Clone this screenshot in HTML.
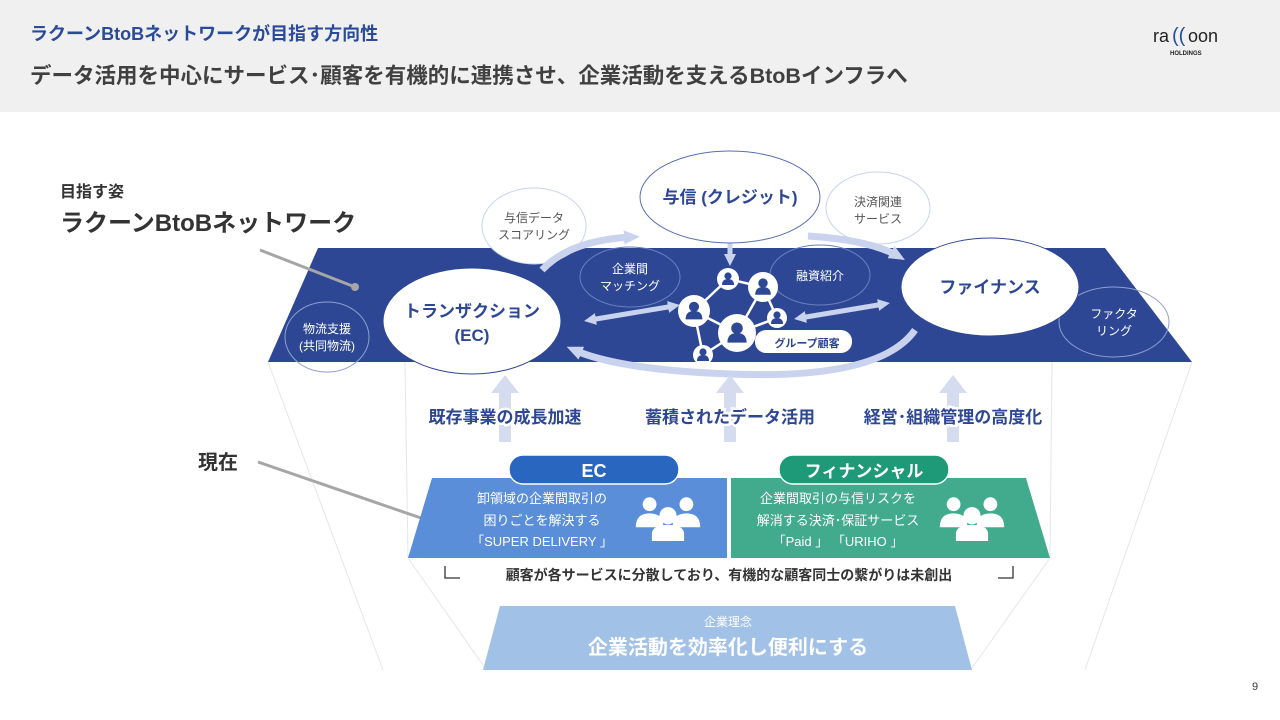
<!DOCTYPE html>
<html><head><meta charset="utf-8"><style>
html,body{margin:0;padding:0;width:1280px;height:720px;overflow:hidden;background:#fff;}
svg{display:block;font-family:"Liberation Sans","Noto Sans CJK JP",sans-serif;}
</style></head><body>
<svg width="1280" height="720" viewBox="0 0 1280 720" xmlns="http://www.w3.org/2000/svg">
<defs>
<marker id="ah" markerWidth="16" markerHeight="16" refX="8" refY="8" orient="auto" markerUnits="userSpaceOnUse"><path d="M0,1 L16,8 L0,15 z" fill="#c9d3ee"/></marker>
<marker id="ah2" markerWidth="12" markerHeight="12" refX="6" refY="6" orient="auto-start-reverse" markerUnits="userSpaceOnUse"><path d="M0,0 L12,6 L0,12 z" fill="#c9d3ee"/></marker>
<g id="ppl" fill="#fff">
<circle cx="-16" cy="-12" r="6"/><circle cx="16" cy="-12" r="6"/><path d="M-28,8 q0,-12 12,-12 q12,0 12,12 z"/><path d="M4,8 q0,-12 12,-12 q12,0 12,12 z"/>
<circle cx="0" cy="-2" r="7.5"/><path d="M-14,20 v-6 q0,-8 14,-8 q14,0 14,8 v6 z"/>
</g>
<g id="usr"><circle cx="0" cy="-3" r="3.6" fill="#2e4795"/><path d="M-6,6 q0,-6 6,-6 q6,0 6,6 z" fill="#2e4795"/></g>
</defs>
<rect x="0" y="0" width="1280" height="112" fill="#f0f0f0"/>
<text x="30" y="40" font-size="18" font-weight="bold" fill="#2a4a9a">ラクーンBtoBネットワークが目指す方向性</text>
<text x="30" y="83" font-size="21.5" font-weight="bold" fill="#404040">データ活用を中心にサービス･顧客を有機的に連携させ、企業活動を支えるBtoBインフラへ</text>
<text x="1153" y="42" font-size="18" fill="#222">ra</text><text x="1172" y="42" font-size="20" fill="#1f4fa0">((</text><text x="1188" y="42" font-size="18" fill="#222">oon</text>
<text x="1170" y="55" font-size="6" font-weight="bold" fill="#222">HOLDINGS</text>

<g stroke="#e3e7ee" stroke-width="1" fill="none">
<path d="M268,362 L383,670"/><path d="M1192,362 L1085,670"/>
<path d="M405,362 L408,558 L485,668"/><path d="M1052,362 L1050,558 L972,668"/>
</g>

<polygon points="318,248 1105,248 1192,362 268,362" fill="#2e4795"/>

<g fill="none" stroke="#c9d3ee" stroke-width="1">
<ellipse cx="534" cy="226" rx="52" ry="38" fill="#fff"/>
<ellipse cx="878" cy="208" rx="52" ry="36" fill="#fff"/>
<ellipse cx="630" cy="277" rx="50" ry="30" stroke="#6b7fbf"/>
<ellipse cx="820" cy="275" rx="50" ry="30" stroke="#6b7fbf"/>
<ellipse cx="327" cy="337" rx="42" ry="35" stroke="#8fa0d0"/>
<ellipse cx="1114" cy="322" rx="55" ry="35" stroke="#8fa0d0"/>
</g>

<g stroke="#c9d3ee" stroke-width="7" fill="none">
<path d="M542,270 Q570,240 632,237" marker-end="url(#ah)"/>
<path d="M808,236 Q870,240 898,256" marker-end="url(#ah)"/>
<path d="M915,330 Q880,380 730,374 Q620,370 574,350" marker-end="url(#ah)"/>
</g>
<g stroke="#c9d3ee" stroke-width="5" fill="none">
<path d="M590,320 L674,306" marker-start="url(#ah2)" marker-end="url(#ah2)"/>
<path d="M800,318 L884,304" marker-start="url(#ah2)" marker-end="url(#ah2)"/>
<path d="M730,234 L730,260" marker-start="url(#ah2)" marker-end="url(#ah2)"/>
</g>

<ellipse cx="472" cy="321" rx="89" ry="53" fill="#fff" stroke="#2e4795" stroke-width="1"/>
<ellipse cx="990" cy="287" rx="89" ry="49" fill="#fff" stroke="#2e4795" stroke-width="1"/>
<ellipse cx="730" cy="197" rx="90" ry="46" fill="#fff" stroke="#5a6fb0" stroke-width="1"/>

<g stroke="#fff" stroke-width="2.5">
<line x1="728" y1="279" x2="763" y2="287"/><line x1="728" y1="279" x2="694" y2="311"/>
<line x1="763" y1="287" x2="777" y2="318"/><line x1="763" y1="287" x2="737" y2="333"/>
<line x1="694" y1="311" x2="737" y2="333"/><line x1="694" y1="311" x2="703" y2="355"/>
<line x1="737" y1="333" x2="703" y2="355"/><line x1="737" y1="333" x2="777" y2="318"/>
</g>
<rect x="755" y="330" width="97" height="23" rx="11" fill="#fff"/>
<text x="807" y="347" font-size="11" font-weight="bold" fill="#2e4795" text-anchor="middle">グループ顧客</text>
<g fill="#fff">
<circle cx="728" cy="279" r="11"/><circle cx="763" cy="287" r="15"/><circle cx="694" cy="311" r="16"/>
<circle cx="777" cy="318" r="10"/><circle cx="737" cy="333" r="19"/><circle cx="703" cy="355" r="10"/>
</g>
<use href="#usr" x="728" y="279"/><use href="#usr" x="763" y="287" transform="translate(763 287) scale(1.3) translate(-763 -287)"/>
<use href="#usr" x="694" y="311" transform="translate(694 311) scale(1.4) translate(-694 -311)"/>
<use href="#usr" x="777" y="318"/><use href="#usr" x="737" y="333" transform="translate(737 333) scale(1.6) translate(-737 -333)"/>
<use href="#usr" x="703" y="355"/>

<g font-weight="bold" fill="#2e4795" text-anchor="middle">
<text x="472" y="317" font-size="17">トランザクション</text><text x="472" y="341" font-size="17">(EC)</text>
<text x="990" y="293" font-size="17">ファイナンス</text>
<text x="730" y="203" font-size="17">与信 (クレジット)</text>
</g>
<g font-size="12" fill="#555" text-anchor="middle">
<text x="534" y="222">与信データ</text><text x="534" y="239">スコアリング</text>
<text x="878" y="206">決済関連</text><text x="878" y="223">サービス</text>
</g>
<g font-size="12" fill="#fff" text-anchor="middle">
<text x="630" y="273">企業間</text><text x="630" y="290">マッチング</text>
<text x="820" y="280">融資紹介</text>
<text x="327" y="333">物流支援</text><text x="327" y="350">(共同物流)</text>
<text x="1114" y="318">ファクタ</text><text x="1114" y="335">リング</text>
</g>

<text x="60" y="197" font-size="16" font-weight="bold" fill="#333">目指す姿</text>
<text x="60" y="231" font-size="24" font-weight="bold" fill="#333">ラクーンBtoBネットワーク</text>
<line x1="260" y1="250" x2="355" y2="287" stroke="#a6a6a6" stroke-width="3"/><circle cx="355" cy="287" r="4" fill="#a6a6a6"/>
<text x="198" y="469" font-size="20" font-weight="bold" fill="#333">現在</text>
<line x1="258" y1="462" x2="450" y2="528" stroke="#a6a6a6" stroke-width="3"/><circle cx="450" cy="528" r="4" fill="#a6a6a6"/>

<g fill="#d5dcef">
<rect x="499" y="392" width="12" height="50"/><polygon points="491,393 505,375 519,393"/>
<rect x="724" y="392" width="12" height="50"/><polygon points="716,393 730,375 744,393"/>
<rect x="947" y="392" width="12" height="50"/><polygon points="939,393 953,375 967,393"/>
</g>
<g font-size="17" font-weight="bold" fill="#2e4795" text-anchor="middle">
<text x="505" y="423" stroke="#fff" stroke-width="5" paint-order="stroke">既存事業の成長加速</text>
<text x="730" y="423" stroke="#fff" stroke-width="5" paint-order="stroke">蓄積されたデータ活用</text>
<text x="953" y="423" stroke="#fff" stroke-width="5" paint-order="stroke">経営･組織管理の高度化</text>
</g>

<polygon points="432,478 727,478 727,558 408,558" fill="#5b8ed9"/>
<polygon points="731,478 1026,478 1050,558 731,558" fill="#42ab8e"/>
<rect x="509" y="455" width="170" height="29" rx="14" fill="#2966c0" stroke="#fff" stroke-width="1.5"/>
<rect x="779" y="455" width="170" height="29" rx="14" fill="#1e9a78" stroke="#fff" stroke-width="1.5"/>
<text x="594" y="477" font-size="18" font-weight="bold" fill="#fff" text-anchor="middle">EC</text>
<text x="864" y="477" font-size="17" font-weight="bold" fill="#fff" text-anchor="middle">フィナンシャル</text>
<g font-size="13" fill="#fff" text-anchor="middle">
<text x="542" y="503">卸領域の企業間取引の</text><text x="542" y="525">困りごとを解決する</text><text x="542" y="546">「SUPER DELIVERY 」</text>
<text x="838" y="503">企業間取引の与信リスクを</text><text x="838" y="525">解消する決済･保証サービス</text><text x="838" y="546">「Paid 」 「URIHO 」</text>
</g>
<use href="#ppl" transform="translate(668 518) scale(1.15)"/><use href="#ppl" transform="translate(972 518) scale(1.15)"/>

<g stroke="#333" stroke-width="1.3" fill="none">
<path d="M445,566 V578 H460"/><path d="M998,578 H1013 V566"/>
</g>
<text x="729" y="580" font-size="14" font-weight="bold" fill="#333" text-anchor="middle">顧客が各サービスに分散しており、有機的な顧客同士の繋がりは未創出</text>

<polygon points="500,606 955,606 972,670 483,670" fill="#a2c1e6"/>
<text x="728" y="626" font-size="12" fill="#fff" text-anchor="middle">企業理念</text>
<text x="728" y="654" font-size="20" font-weight="bold" fill="#fff" text-anchor="middle">企業活動を効率化し便利にする</text>
<text x="1255" y="690" font-size="11" fill="#333" text-anchor="middle">9</text>
</svg>
</body></html>
